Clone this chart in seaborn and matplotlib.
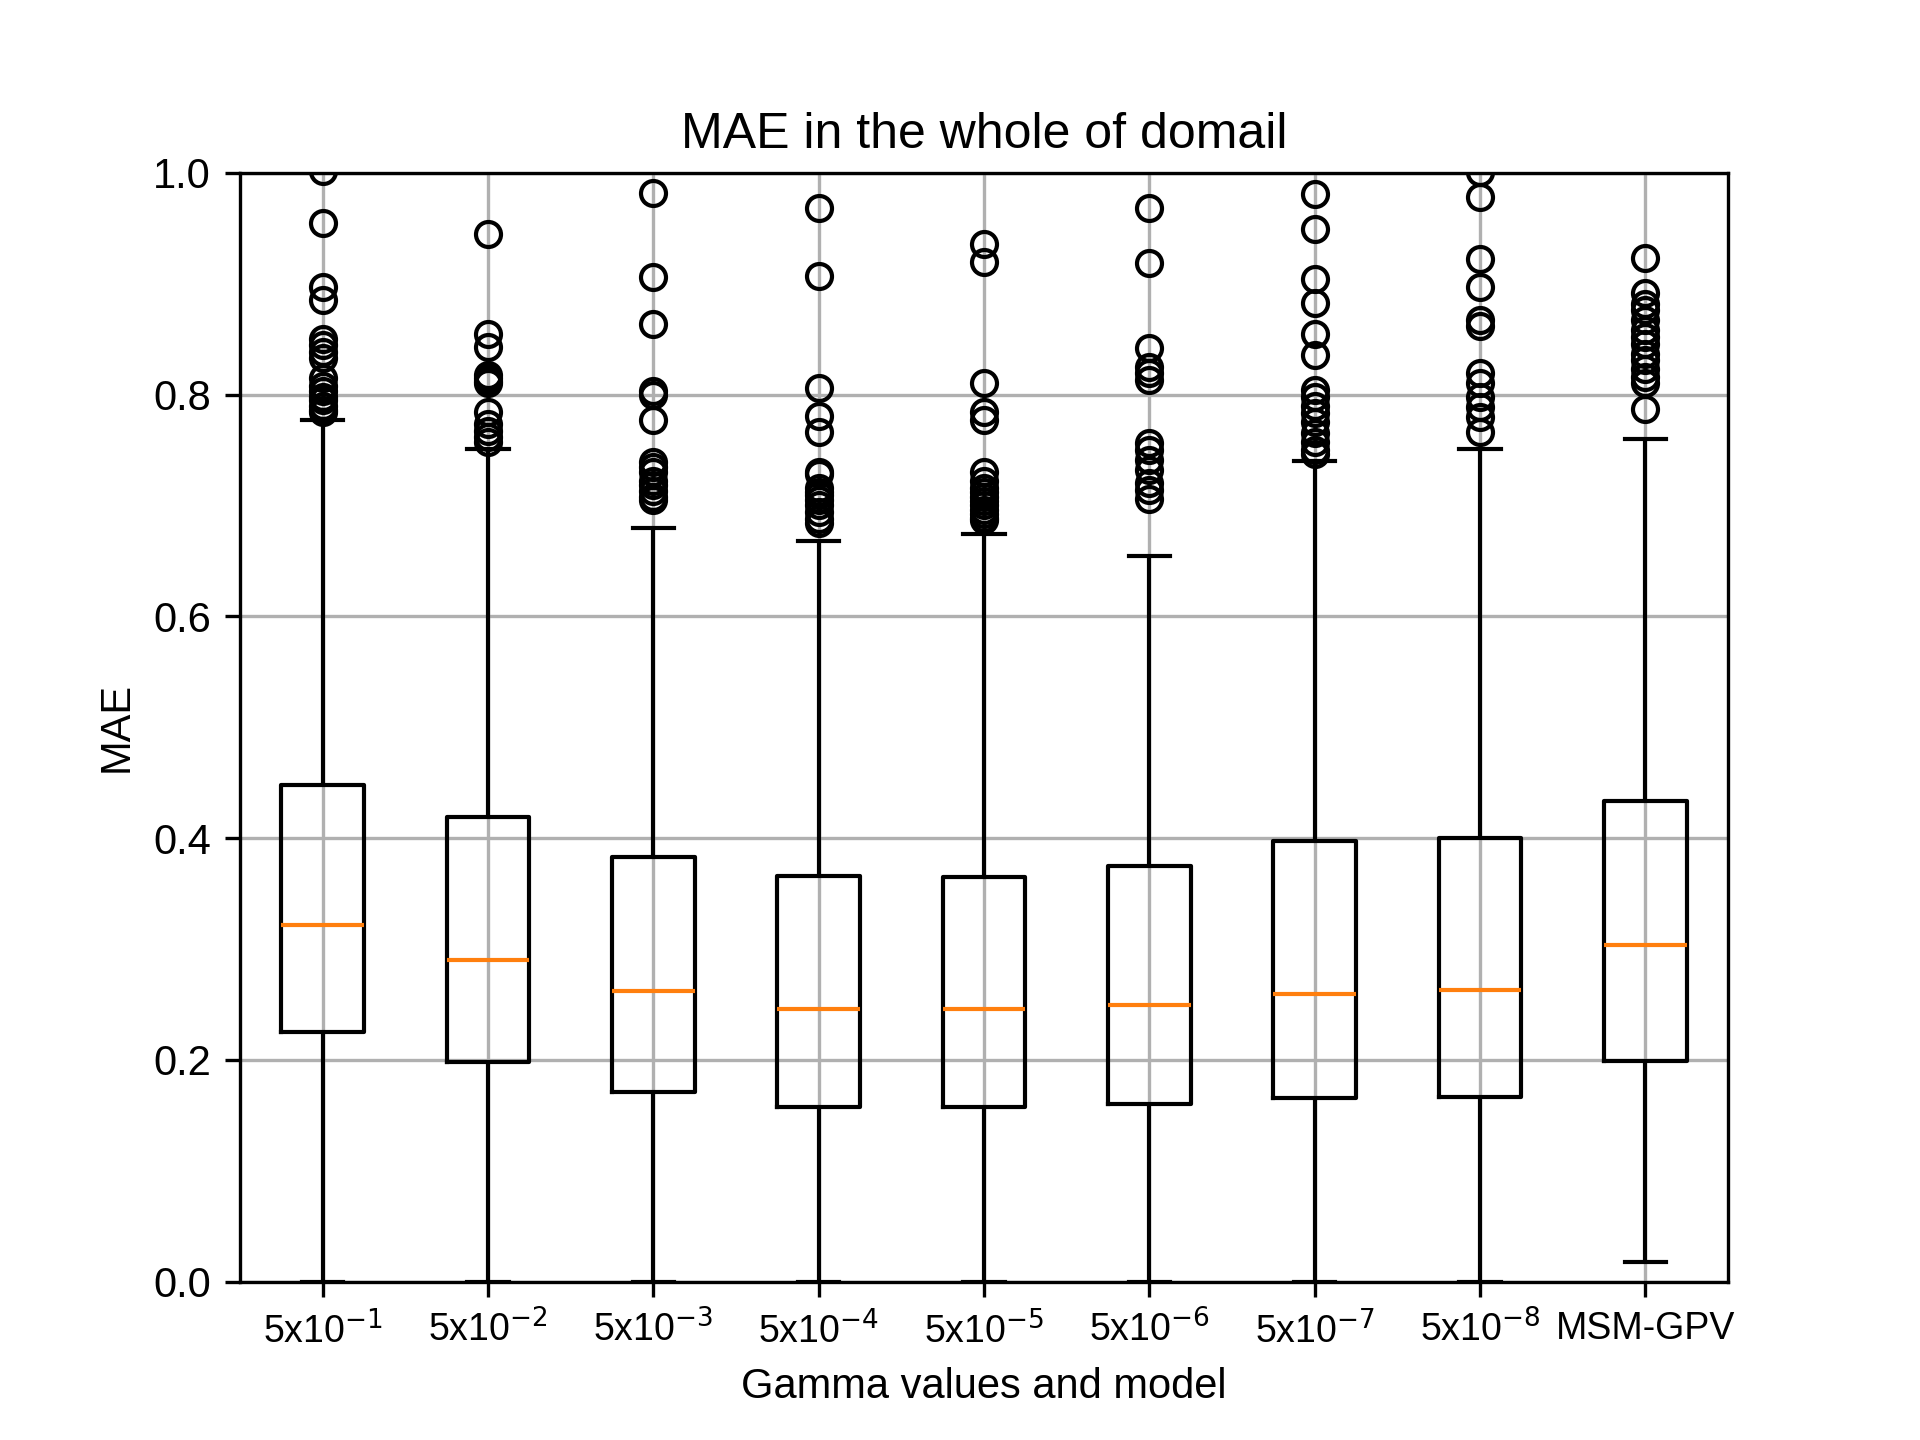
import numpy as np
import pandas as pd
import matplotlib
matplotlib.use("Agg")
import matplotlib.pyplot as plt
import seaborn as sns

plt.rcParams['font.family'] = ['Liberation Sans', 'DejaVu Sans']
plt.rcParams['mathtext.fontset'] = 'dejavusans'

labels = ['5x10$^{-1}$', '5x10$^{-2}$', '5x10$^{-3}$', '5x10$^{-4}$', '5x10$^{-5}$',
          '5x10$^{-6}$', '5x10$^{-7}$', '5x10$^{-8}$', 'MSM-GPV']

whisker_low = [0.0, 0.0, 0.0, 0.0, 0.0, 0.0, 0.0, 0.0, 0.0176]
q1 = [0.2252, 0.1979, 0.1709, 0.1574, 0.1574, 0.1601, 0.1655, 0.1661, 0.1994]
median = [0.3219, 0.2901, 0.2625, 0.2462, 0.2462, 0.2495, 0.2598, 0.2634, 0.3039]
q3 = [0.4477, 0.4192, 0.3826, 0.3661, 0.3652, 0.3748, 0.3970, 0.4000, 0.4333]
whisker_high = [0.7769, 0.7505, 0.6796, 0.6679, 0.6739, 0.6541, 0.7405, 0.7505, 0.7597]

outliers = [
    [1.002, 0.955, 0.897, 0.885, 0.850, 0.845, 0.838, 0.833, 0.815, 0.808, 0.803,
     0.798, 0.795, 0.790, 0.786, 0.784],
    [0.945, 0.855, 0.843, 0.818, 0.815, 0.812, 0.810, 0.784, 0.773, 0.767, 0.762, 0.757],
    [0.982, 0.906, 0.864, 0.803, 0.800, 0.777, 0.739, 0.735, 0.730, 0.722, 0.718,
     0.713, 0.708, 0.705],
    [0.968, 0.907, 0.806, 0.781, 0.766, 0.730, 0.728, 0.716, 0.712, 0.709, 0.705,
     0.700, 0.694, 0.688, 0.684],
    [0.936, 0.920, 0.810, 0.784, 0.777, 0.730, 0.722, 0.716, 0.712, 0.708, 0.704,
     0.700, 0.696, 0.692, 0.689, 0.687],
    [0.968, 0.919, 0.842, 0.825, 0.819, 0.813, 0.756, 0.750, 0.741, 0.732, 0.720,
     0.714, 0.706],
    [0.981, 0.949, 0.904, 0.883, 0.855, 0.836, 0.804, 0.798, 0.790, 0.783, 0.775,
     0.765, 0.757, 0.750, 0.746],
    [1.001, 0.978, 0.922, 0.897, 0.867, 0.862, 0.819, 0.810, 0.798, 0.789, 0.780, 0.766],
    [0.923, 0.892, 0.882, 0.876, 0.867, 0.858, 0.852, 0.846, 0.837, 0.831, 0.823,
     0.816, 0.810, 0.787],
]

# Build sample sets whose box statistics reproduce the values read above
rows = []
for i, lab in enumerate(labels):
    m = len(outliers[i])
    k = m + 2
    vals = ([whisker_low[i]] + [q1[i]] * k + [median[i]] * k + [q3[i]] * k
            + [whisker_high[i]] * (k - m) + sorted(outliers[i]))
    rows += [(lab, v) for v in vals]
df = pd.DataFrame(rows, columns=['group', 'value'])

fig, ax = plt.subplots(figsize=(6.4, 4.8), dpi=300)

sns.boxplot(data=df, x='group', y='value', order=labels, ax=ax,
            width=0.5, fill=False, color='black', linecolor='black',
            whis=1.5,
            boxprops=dict(color='black', linewidth=1.0),
            whiskerprops=dict(color='black', linewidth=1.0),
            capprops=dict(color='black', linewidth=1.0),
            medianprops=dict(color='#ff7f0e', linewidth=1.0),
            flierprops=dict(marker='o', markerfacecolor='none',
                            markeredgecolor='black', markersize=6,
                            markeredgewidth=1.0, linestyle='none'))

ax.set_ylim(0, 1.0)
ax.set_xlim(-0.5, len(labels) - 0.5)
ax.grid(True, color='#b0b0b0', linewidth=0.8, zorder=1.5)
ax.set_axisbelow('line')
ax.tick_params(axis='x', labelsize=9)
ax.set_title('MAE in the whole of domail')
ax.set_xlabel('Gamma values and model')
ax.set_ylabel('MAE')

fig.savefig('out.png', dpi=300)
